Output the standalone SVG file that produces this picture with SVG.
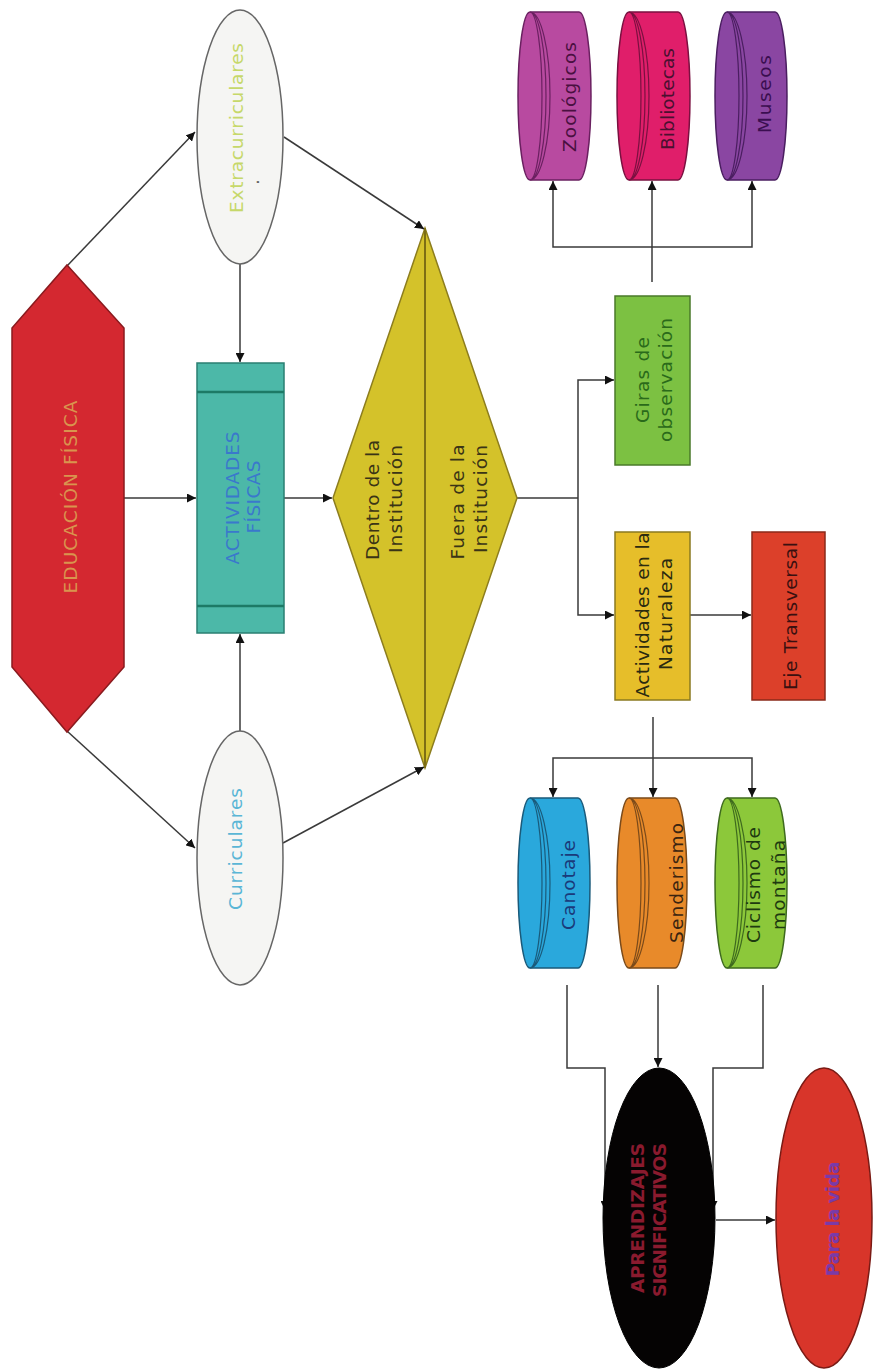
<svg xmlns="http://www.w3.org/2000/svg" width="878" height="1369" viewBox="0 0 878 1369">
<defs>
<marker id="ah" viewBox="0 0 10 10" refX="10" refY="5" markerWidth="9" markerHeight="9" markerUnits="userSpaceOnUse" orient="auto">
<path d="M0,0 L10,5 L0,10 Z" fill="#111"/>
</marker>
<style>
.t{font-family:"DejaVu Sans","Liberation Sans",sans-serif;font-size:18.5px;text-anchor:middle;dominant-baseline:central}
.c{fill:none;stroke:#3a3a3a;stroke-width:1.5}
.a{marker-end:url(#ah)}
.in{fill:none;stroke-width:1.2}
</style>
</defs>
<rect width="878" height="1369" fill="#ffffff"/>

<g id="connectors">
<line class="c a" x1="67" y1="266" x2="195" y2="132"/>
<line class="c a" x1="67" y1="731" x2="195" y2="848"/>
<line class="c a" x1="124" y1="498" x2="196" y2="498"/>
<line class="c a" x1="240" y1="264" x2="240" y2="362"/>
<line class="c a" x1="240" y1="731" x2="240" y2="634"/>
<line class="c a" x1="284" y1="498" x2="332" y2="498"/>
<line class="c a" x1="284" y1="137" x2="424" y2="229"/>
<line class="c a" x1="283" y1="843" x2="424" y2="767"/>
<path class="c" d="M517 498 H578"/>
<path class="c a" d="M578 498 V380 H614"/>
<path class="c a" d="M578 498 V615 H614"/>
<line class="c a" x1="690" y1="615" x2="751" y2="615"/>
<path class="c" d="M652 282 V247"/>
<path class="c a" d="M652 247 H553 V181"/>
<path class="c a" d="M652 247 V181"/>
<path class="c a" d="M652 247 H752 V181"/>
<path class="c" d="M653 717 V758"/>
<path class="c a" d="M653 758 H553 V797"/>
<path class="c a" d="M653 758 V797"/>
<path class="c a" d="M653 758 H752 V797"/>
<path class="c a" d="M567 985 V1068 H605 V1210"/>
<path class="c a" d="M763 985 V1068 H713 V1210"/>
<path class="c a" d="M658 985 V1067"/>
<line class="c a" x1="716" y1="1220" x2="775" y2="1220"/>
</g>

<g id="educacion-fisica">
<polygon points="67,265 124,328 124,667 67,732 12,667 12,328" fill="#d42830" stroke="#8a1a1e" stroke-width="1.5"/>
<text class="t" transform="translate(70,497) rotate(-90)" fill="#d9944e" font-size="17" textLength="193" lengthAdjust="spacing">EDUCACIÓN FÍSICA</text>
</g>

<g id="actividades-fisicas">
<rect x="197" y="363" width="87" height="270" fill="#4cb8a8" stroke="#2a7f72" stroke-width="1.5"/>
<line x1="197" y1="392" x2="284" y2="392" stroke="#1d7a66" stroke-width="2.5"/>
<line x1="197" y1="606" x2="284" y2="606" stroke="#1d7a66" stroke-width="2.5"/>
<text class="t" transform="translate(232,498) rotate(-90)" fill="#3a78cc" font-size="16" textLength="133" lengthAdjust="spacing">ACTIVIDADES</text>
<text class="t" transform="translate(253,497) rotate(-90)" fill="#3a78cc" font-size="16" textLength="73" lengthAdjust="spacing">FÍSICAS</text>
</g>

<g id="extracurriculares">
<ellipse cx="240" cy="137" rx="43" ry="127" fill="#f5f5f3" stroke="#666" stroke-width="1.5"/>
<text class="t" transform="translate(236,128) rotate(-90)" fill="#c6d86a" textLength="170" lengthAdjust="spacing">Extracurriculares</text>
<text class="t" transform="translate(252,182) rotate(-90)" fill="#666" font-size="12">.</text>
</g>

<g id="curriculares">
<ellipse cx="240" cy="858" rx="43" ry="127" fill="#f5f5f3" stroke="#666" stroke-width="1.5"/>
<text class="t" transform="translate(235,849) rotate(-90)" fill="#5ab6d6" textLength="122" lengthAdjust="spacing">Curriculares</text>
</g>

<g id="institucion">
<polygon points="425,228 517,498 425,768 333,498" fill="#d4c22a" stroke="#8c7d1e" stroke-width="1.5"/>
<line x1="425" y1="228" x2="425" y2="768" stroke="#7d6e14" stroke-width="2"/>
<text class="t" transform="translate(372,500) rotate(-90)" fill="#3a3416" textLength="120" lengthAdjust="spacing">Dentro de la</text>
<text class="t" transform="translate(395,499) rotate(-90)" fill="#3a3416" textLength="108" lengthAdjust="spacing">Institución</text>
<text class="t" transform="translate(457,502) rotate(-90)" fill="#3a3416" textLength="115" lengthAdjust="spacing">Fuera de la</text>
<text class="t" transform="translate(480,499) rotate(-90)" fill="#3a3416" textLength="108" lengthAdjust="spacing">Institución</text>
</g>

<g id="giras">
<rect x="615" y="296" width="75" height="169" fill="#7cc142" stroke="#4a7a2a" stroke-width="1.5"/>
<text class="t" transform="translate(642,380) rotate(-90)" fill="#2a6a1a" textLength="86" lengthAdjust="spacing">Giras de</text>
<text class="t" transform="translate(665,380) rotate(-90)" fill="#2a6a1a" textLength="124" lengthAdjust="spacing">observación</text>
</g>

<g id="naturaleza">
<rect x="615" y="532" width="75" height="168" fill="#e6be2a" stroke="#8a7a20" stroke-width="1.5"/>
<text class="t" transform="translate(642,615) rotate(-90)" fill="#2a2a10" textLength="165" lengthAdjust="spacing">Actividades en la</text>
<text class="t" transform="translate(665,614) rotate(-90)" fill="#2a2a10" textLength="112" lengthAdjust="spacing">Naturaleza</text>
</g>

<g id="eje-transversal">
<rect x="752" y="532" width="73" height="168" fill="#dc402a" stroke="#8a2a1a" stroke-width="1.5"/>
<text class="t" transform="translate(790,616) rotate(-90)" fill="#3a1010" textLength="148" lengthAdjust="spacing">Eje Transversal</text>
</g>

<g id="zoologicos">
<path d="M530 12 H579 A12 84 0 0 1 579 180 H530 A12 84 0 0 1 530 12 Z" fill="#b84aa0" stroke="#6a2060" stroke-width="1.5"/>
<path class="in" stroke="#6a2060" d="M530 12 A12 84 0 0 1 530 180 M530 12 A16 84 0 0 1 530 180 M530 12 A20 84 0 0 1 530 180"/>
<text class="t" transform="translate(569,97) rotate(-90)" fill="#4a1040" textLength="110" lengthAdjust="spacing">Zoológicos</text>
</g>

<g id="bibliotecas">
<path d="M629 12 H678 A12 84 0 0 1 678 180 H629 A12 84 0 0 1 629 12 Z" fill="#e01e6a" stroke="#7a1040" stroke-width="1.5"/>
<path class="in" stroke="#7a1040" d="M629 12 A12 84 0 0 1 629 180 M629 12 A16 84 0 0 1 629 180 M629 12 A20 84 0 0 1 629 180"/>
<text class="t" transform="translate(667,99) rotate(-90)" fill="#4a1030" textLength="102" lengthAdjust="spacing">Bibliotecas</text>
</g>

<g id="museos">
<path d="M727 12 H775 A12 84 0 0 1 775 180 H727 A12 84 0 0 1 727 12 Z" fill="#8a46a2" stroke="#4a1e60" stroke-width="1.5"/>
<path class="in" stroke="#4a1e60" d="M727 12 A12 84 0 0 1 727 180 M727 12 A16 84 0 0 1 727 180 M727 12 A20 84 0 0 1 727 180"/>
<text class="t" transform="translate(764,94) rotate(-90)" fill="#3a0e50" textLength="78" lengthAdjust="spacing">Museos</text>
</g>

<g id="canotaje">
<path d="M530 798 H578 A12 85 0 0 1 578 968 H530 A12 85 0 0 1 530 798 Z" fill="#2aa8dc" stroke="#1a5a7a" stroke-width="1.5"/>
<path class="in" stroke="#1a5a7a" d="M530 798 A12 85 0 0 1 530 968 M530 798 A16 85 0 0 1 530 968 M530 798 A20 85 0 0 1 530 968"/>
<text class="t" transform="translate(568,885) rotate(-90)" fill="#1a3a7a" textLength="90" lengthAdjust="spacing">Canotaje</text>
</g>

<g id="senderismo">
<path d="M629 798 H675 A12 85 0 0 1 675 968 H629 A12 85 0 0 1 629 798 Z" fill="#e88a2a" stroke="#7a4a1a" stroke-width="1.5"/>
<path class="in" stroke="#7a4a1a" d="M629 798 A12 85 0 0 1 629 968 M629 798 A16 85 0 0 1 629 968 M629 798 A20 85 0 0 1 629 968"/>
<text class="t" transform="translate(676,883) rotate(-90)" fill="#3a2410" textLength="120" lengthAdjust="spacing">Senderismo</text>
</g>

<g id="ciclismo">
<path d="M727 798 H775 A12 85 0 0 1 775 968 H727 A12 85 0 0 1 727 798 Z" fill="#8cc83a" stroke="#3e6a1e" stroke-width="1.5"/>
<path class="in" stroke="#3e6a1e" d="M727 798 A12 85 0 0 1 727 968 M727 798 A16 85 0 0 1 727 968 M727 798 A20 85 0 0 1 727 968"/>
<text class="t" transform="translate(753,885) rotate(-90)" fill="#1e3a10" textLength="116" lengthAdjust="spacing">Ciclismo de</text>
<text class="t" transform="translate(778,885) rotate(-90)" fill="#1e3a10" textLength="90" lengthAdjust="spacing">montaña</text>
</g>

<g id="aprendizajes">
<ellipse cx="659" cy="1218" rx="56" ry="150" fill="#050303" stroke="#000" stroke-width="1"/>
<text class="t" transform="translate(637,1218) rotate(-90)" fill="#8a1a2e" font-size="15" font-weight="bold" textLength="150" lengthAdjust="spacing">APRENDIZAJES</text>
<text class="t" transform="translate(659,1220) rotate(-90)" fill="#8a1a2e" font-size="15" font-weight="bold" textLength="154" lengthAdjust="spacing">SIGNIFICATIVOS</text>
</g>

<g id="para-la-vida">
<ellipse cx="824" cy="1218" rx="48" ry="150" fill="#d8352a" stroke="#7a1a14" stroke-width="1.5"/>
<text class="t" transform="translate(832,1219) rotate(-90)" fill="#7a3aa8" font-size="15" font-weight="bold" textLength="115" lengthAdjust="spacing">Para la vida</text>
</g>
</svg>
